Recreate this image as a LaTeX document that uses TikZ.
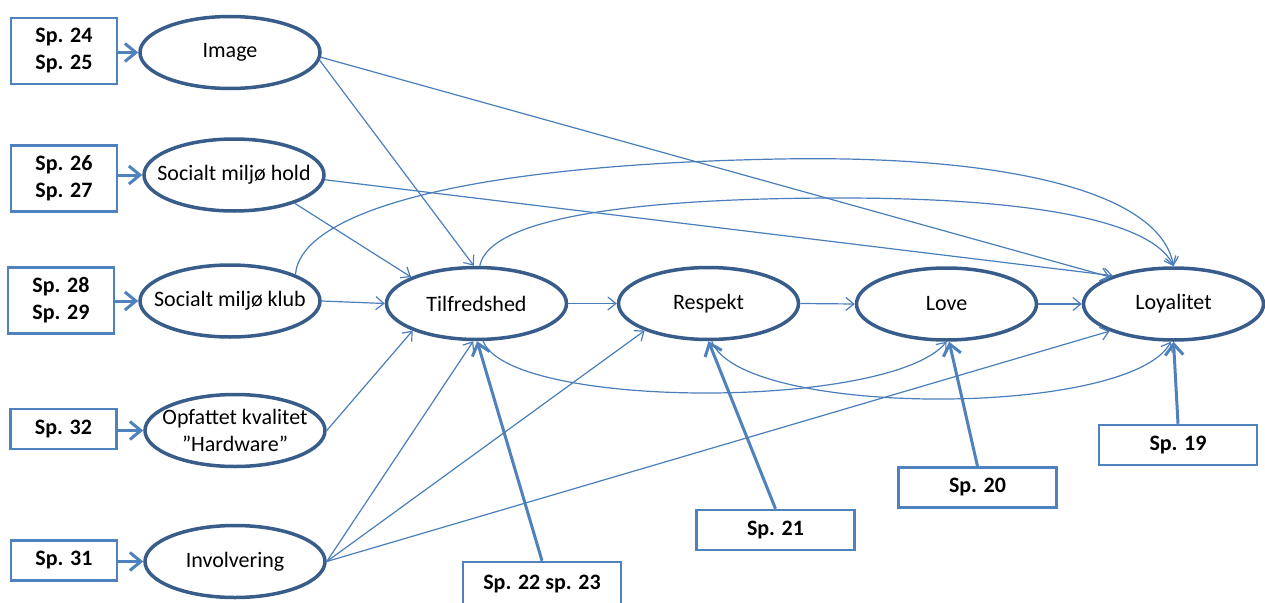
\documentclass[tikz,border=0pt]{standalone}
\usepackage{fontspec}
\setmainfont{Carlito}
\usetikzlibrary{shapes.geometric,arrows.meta}
\definecolor{ellblue}{HTML}{385D8A}
\definecolor{linblue}{HTML}{4A7EBB}
\definecolor{boxblue}{HTML}{4F81BD}
\begin{document}
\begin{tikzpicture}[x=1pt,y=-1pt,
  every node/.style={font=\fontsize{22}{27}\selectfont},
  latent/.style={ellipse, draw=ellblue, line width=3.5pt, minimum width=180pt, minimum height=72pt, inner xsep=-25pt, inner ysep=-12pt, align=center, fill=white},
  indbox/.style={rectangle, draw=boxblue, line width=2.5pt, minimum width=106pt, inner sep=0pt, align=center, font=\fontsize{22}{27}\selectfont\bfseries, fill=white},
  conn/.style={draw=linblue, line width=1.2pt, -{Straight Barb[length=8pt,width=13pt]}},
  feed/.style={draw=boxblue, line width=3pt, -{Straight Barb[length=11pt,width=18pt]}},
]
\clip (0,0) rectangle (1265,602);
% latent variables
\node[latent] (img)  at (230,52.5)  {Image};
\node[latent] (hold) at (234,175)   {Socialt miljø hold};
\node[latent] (klub) at (230,301)   {Socialt miljø klub};
\node[latent] (opf)  at (235,430.5) {Opfattet kvalitet\\”Hardware”};
\node[latent] (inv)  at (235,561.5) {Involvering};
\node[latent] (tilf) at (476.5,303.5) {Tilfredshed};
\node[latent] (resp) at (708.5,303.5) {Respekt};
\node[latent] (love) at (946.5,304)   {Love};
\node[latent] (loy)  at (1173.5,304)  {Loyalitet};
% indicator boxes
\node[indbox, minimum height=66pt] (b1) at (64,51)    {Sp. 24\\Sp. 25};
\node[indbox, minimum height=66pt] (b2) at (64,178.5) {Sp. 26\\Sp. 27};
\node[indbox, minimum height=66pt] (b3) at (61,300.5) {Sp. 28\\Sp. 29};
\node[indbox, minimum height=40pt] (b4) at (63.5,429) {Sp. 32};
\node[indbox, minimum height=40pt] (b5) at (64,560.5) {Sp. 31};
\node[indbox, minimum width=158pt, minimum height=44pt] (s22) at (542,584)    {Sp. 22 sp. 23};
\node[indbox, minimum width=158pt, minimum height=40pt] (s21) at (775.5,530)  {Sp. 21};
\node[indbox, minimum width=158pt, minimum height=40pt] (s20) at (977.5,487.5) {Sp. 20};
\node[indbox, minimum width=158pt, minimum height=40pt] (s19) at (1178,445)   {Sp. 19};
% box -> latent
\draw[feed] (b1.east |- img.west)  -- (img.west);
\draw[feed] (b2.east |- hold.west) -- (hold.west);
\draw[feed] (b3.east |- klub.west) -- (klub.west);
\draw[feed] (b4.east |- opf.west)  -- (opf.west);
\draw[feed] (b5.east |- inv.west)  -- (inv.west);
\draw[feed] (s22.north) -- (tilf.271);
\draw[feed] (s21.north) -- (resp.270);
\draw[feed] (s20.north) -- (love.274);
\draw[feed] (s19.north) -- (loy.270);
% structural paths
\draw[conn] (img.-5) -- (tilf.94);
\draw[conn] (img.-3) -- (loy.157);
\draw[conn] (hold.-3) -- (loy.155);
\draw[conn] (hold.-25) -- (tilf.158);
\draw[conn] (klub.east) -- (tilf.west);
\draw[conn] (opf.east) -- (tilf.203);
\draw[conn] (inv.east) -- (tilf.265);
\draw[conn] (inv.east) -- (resp.203);
\draw[conn] (inv.east) -- (loy.203);
\draw[conn] (tilf.east) -- (resp.west);
\draw[conn] (resp.east) -- (love.west);
\draw[conn] (love.east) -- (loy.west);
\draw[conn] (klub.22) .. controls (300,215) and (450,165) .. (780,159) .. controls (1000,155) and (1160,190) .. (loy.north);
\draw[conn] (tilf.85) .. controls (490,215) and (650,198) .. (840,198) .. controls (1050,198) and (1155,225) .. (loy.north);
\draw[conn] (tilf.280) .. controls (510,410) and (890,410) .. (love.270);
\draw[conn] (resp.275) .. controls (740,418) and (1130,418) .. (loy.266);
\end{tikzpicture}
\end{document}
